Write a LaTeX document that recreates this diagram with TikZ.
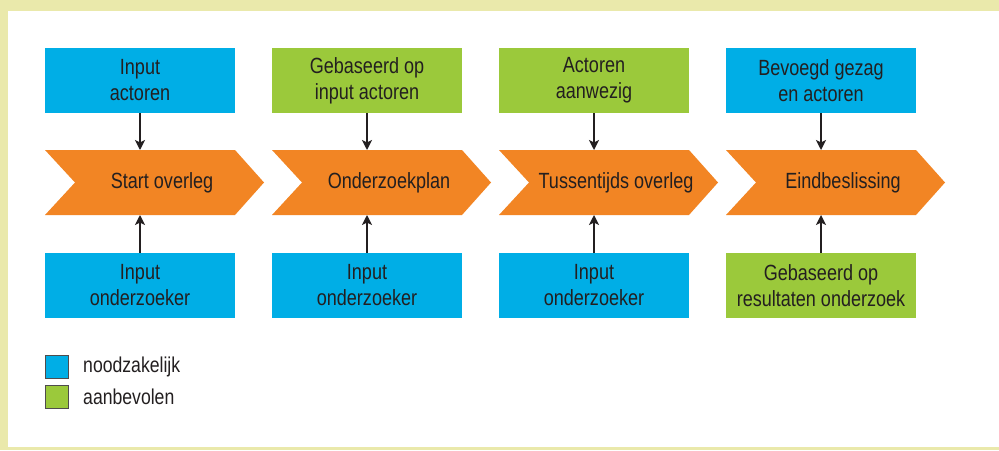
\documentclass[tikz,border=0pt]{standalone}
\usepackage{fontspec}
\setmainfont{Liberation Sans}[FakeStretch=0.82]
\usetikzlibrary{arrows.meta}
\definecolor{bgyel}{HTML}{EAE9AB}
\definecolor{nblue}{HTML}{00AEE6}
\definecolor{ngreen}{HTML}{9BC93B}
\definecolor{norange}{HTML}{F28524}
\definecolor{ntext}{HTML}{231F20}
\tikzset{
  inbox/.style={rectangle, minimum width=190pt, minimum height=65pt, inner sep=0pt, align=center, text=ntext, font=\fontsize{22}{26}\selectfont},
  bluebox/.style={inbox, fill=nblue},
  greenbox/.style={inbox, fill=ngreen},
  chevfill/.style={fill=norange},
  chevtext/.style={inner sep=0pt, text=ntext, font=\fontsize{22}{26}\selectfont},
  arr/.style={draw=ntext, line width=1.6pt, -{Stealth[length=10pt,width=10pt,inset=2.5pt]}},
  legsq/.style={rectangle, minimum width=23pt, minimum height=23pt, inner sep=0pt, draw=ntext!80, line width=0.8pt},
  legtext/.style={anchor=west, inner sep=0pt, text=ntext, font=\fontsize{21.5}{24}\selectfont}
}
\begin{document}
\begin{tikzpicture}[x=1pt,y=-1pt]
\useasboundingbox (0,0) rectangle (999,450);
\fill[bgyel] (0,0) rectangle (999,450);
\fill[white] (8,11) rectangle (999,447);
% chevrons
\foreach \c in {45,272,499,726}{
  \path[chevfill] (\c,150) -- (\c+190,150) -- (\c+219,182.5) -- (\c+190,215) -- (\c,215) -- (\c+30,182.5) -- cycle;
}
\node[chevtext] (s1) at (162,183) {Start overleg};
\node[chevtext] (s2) at (389,183) {Onderzoekplan};
\node[chevtext] (s3) at (616,183) {Tussentijds overleg};
\node[chevtext] (s4) at (843,183) {Eindbeslissing};
\foreach \i/\c in {1/45,2/272,3/499,4/726}{
  \coordinate (s\i t) at (\c+95,150);
  \coordinate (s\i b) at (\c+95,215);
}
% top boxes
\node[bluebox]  (t1) at (140,80.5) {Input\\actoren};
\node[greenbox] (t2) at (367,80.5) {Gebaseerd op\\input actoren};
\node[greenbox] (t3) at (594,80.5) {Actoren\\aanwezig};
\node[bluebox]  (t4) at (821,80.5) {Bevoegd gezag\\en actoren};
% bottom boxes
\node[bluebox]  (b1) at (140,285.5) {Input\\onderzoeker};
\node[bluebox]  (b2) at (367,285.5) {Input\\onderzoeker};
\node[bluebox]  (b3) at (594,285.5) {Input\\onderzoeker};
\node[greenbox] (b4) at (821,285.5) {Gebaseerd op\\resultaten onderzoek};
% arrows
\foreach \i in {1,2,3,4}{
  \draw[arr] (t\i.south) -- (s\i t);
  \draw[arr] (b\i.north) -- (s\i b);
}
% legend
\node[legsq, fill=nblue]  (l1) at (56.5,366.5) {};
\node[legsq, fill=ngreen] (l2) at (56.5,397) {};
\node[legtext] (lt1) at (83,366.5) {noodzakelijk};
\node[legtext] (lt2) at (83,397) {aanbevolen};
\end{tikzpicture}
\end{document}
